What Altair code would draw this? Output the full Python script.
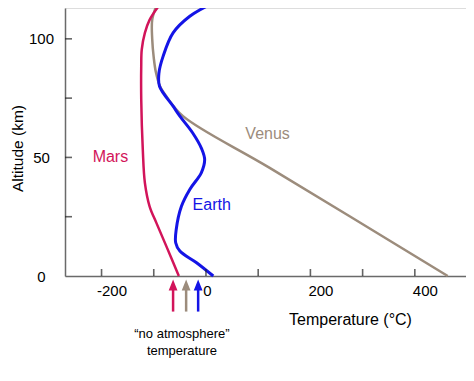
import altair as alt
import pandas as pd

# ---- data ----
mars_alt = [0, 12.6, 22.4, 29.4, 39.3, 53.3, 74.4, 88.4, 95.5, 102.5, 108, 114]
mars_temp = [-52, -76, -95, -108, -117, -121, -124, -124, -123, -117, -108, -90]

earth_alt = [0, 5.6, 10.5, 14, 19.6, 29.4, 36.5, 43.5, 49, 53.5, 60.5, 67.4, 71.6, 80, 85.7, 92.7, 102.5, 109.5, 114.4]
earth_temp = [14, -18, -50, -58, -57, -47, -31, -9, -2.5, -8, -26, -50, -63, -89, -90, -82, -63, -31, 7]

venus_alt = [0, 45.6, 67.4, 75.8, 80, 86, 92, 100, 108, 114]
venus_temp = [463, 122, -44, -76, -88, -96, -100, -103, -103, -95]

planets = ["Mars", "Earth", "Venus"]
colors = ["#d2145a", "#1414e6", "#9c8c7c"]

label_temp = [-183, 11, 118]
label_alt = [50, 30, 60]

# "no atmosphere" temperatures (arrows), in the order of `planets`
noatm_temp = [-63, -15, -38]

xtick_vals = [-200, -100, 0, 100, 200, 300, 400, 500]
xlabel_vals = [-200, 0, 200, 400]
ytick_vals = [25, 50, 75, 100]
ylabel_vals = [0, 50, 100]

note_lines = ["\u201cno atmosphere\u201d", "temperature"]
note_temp = [-46]
note_alt = [-24.5]

W, H = 401, 268
FONT = "Liberation Sans"

xscale = alt.Scale(domain=[-270, 498], nice=False, zero=False)
yscale = alt.Scale(domain=[0, 113], nice=False, zero=False)


def curve(temps, alts, color, width):
    df = pd.DataFrame({"temp": temps, "alt": alts, "i": list(range(len(temps)))})
    return alt.Chart(df).mark_line(
        color=color, strokeWidth=width, interpolate="catmull-rom", clip=False
    ).encode(
        x=alt.X("temp:Q", scale=xscale, axis=alt.Axis(
            values=xlabel_vals, title="Temperature (\u00b0C)", ticks=False, tickSize=0,
            grid=False, domainColor="#6a6a6a", domainWidth=1.5,
            labelFontSize=15, labelColor="black", labelPadding=7, labelOverlap=False,
            labelFlush=False,
            labelExpr="toString(datum.value)",
            labelOffset={"condition": {"test": "datum.value === 0", "value": 1}, "value": 10},
            titleFontSize=16, titleFontWeight="normal", titleColor="black",
            titleX=285, titleY=43, titleBaseline="middle", titleAlign="center")),
        y=alt.Y("alt:Q", scale=yscale, axis=alt.Axis(
            values=ylabel_vals, title="Altitude (km)", ticks=False, tickSize=0,
            grid=False, domainColor="#6a6a6a", domainWidth=1.5,
            labelFontSize=15, labelColor="black", labelAlign="center", labelPadding=24,
            labelOverlap=False,
            titleFontSize=15.5, titleFontWeight="normal", titleColor="black",
            titleX=-48, titleY=140, titleBaseline="middle", titleAlign="center")),
        order="i:Q",
    )


venus = curve(venus_temp, venus_alt, colors[2], 2.5)
mars = curve(mars_temp, mars_alt, colors[0], 2.5)
earth = curve(earth_temp, earth_alt, colors[1], 3)

planet_color = alt.Color("planet:N", scale=alt.Scale(domain=planets, range=colors), legend=None)

labels_df = pd.DataFrame({"planet": planets, "temp": label_temp, "alt": label_alt})
labels = alt.Chart(labels_df).mark_text(
    fontSize=16, font=FONT, align="center", baseline="middle"
).encode(
    x=alt.X("temp:Q", scale=xscale),
    y=alt.Y("alt:Q", scale=yscale),
    text="planet:N",
    color=planet_color,
)

xticks = alt.Chart(pd.DataFrame({"v": xtick_vals})).mark_tick(
    orient="vertical", size=7, thickness=1.6, color="#222", clip=False
).encode(x=alt.X("v:Q", scale=xscale), y=alt.value(H - 3.5))

yticks = alt.Chart(pd.DataFrame({"v": ytick_vals})).mark_tick(
    orient="horizontal", size=7, thickness=1.6, color="#222"
).encode(y=alt.Y("v:Q", scale=yscale), x=alt.value(3.5))

arrow_df = pd.DataFrame({
    "planet": planets,
    "temp": noatm_temp,
    "top": [-5] * 3,
    "bot": [-15] * 3,
    "head": [-3.8] * 3,
})
shafts = alt.Chart(arrow_df).mark_rule(strokeWidth=2.5, clip=False).encode(
    x=alt.X("temp:Q", scale=xscale),
    y=alt.Y("top:Q", scale=yscale),
    y2="bot:Q",
    color=planet_color,
)
heads = alt.Chart(arrow_df).mark_point(
    shape="M0,-1L0.8,1L-0.8,1Z", size=121, filled=True, opacity=1, clip=False
).encode(
    x=alt.X("temp:Q", scale=xscale),
    y=alt.Y("head:Q", scale=yscale),
    color=planet_color,
)

note_df = pd.DataFrame({"temp": note_temp, "alt": note_alt})
note = alt.Chart(note_df).mark_text(
    text=note_lines, fontSize=13, font=FONT, align="center", baseline="middle",
    lineHeight=17, color="black"
).encode(
    x=alt.X("temp:Q", scale=xscale),
    y=alt.Y("alt:Q", scale=yscale),
)

chart = alt.layer(
    venus, mars, earth, labels, xticks, yticks, shafts, heads, note
).properties(
    width=W, height=H,
    padding={"left": 57, "top": 0, "right": 0, "bottom": 95},
    autosize=alt.AutoSizeParams(type="none"),
    background="white",
).configure_view(stroke=None).configure(font=FONT)

chart.save("out.html", embed_options={"renderer": "svg", "actions": False})
